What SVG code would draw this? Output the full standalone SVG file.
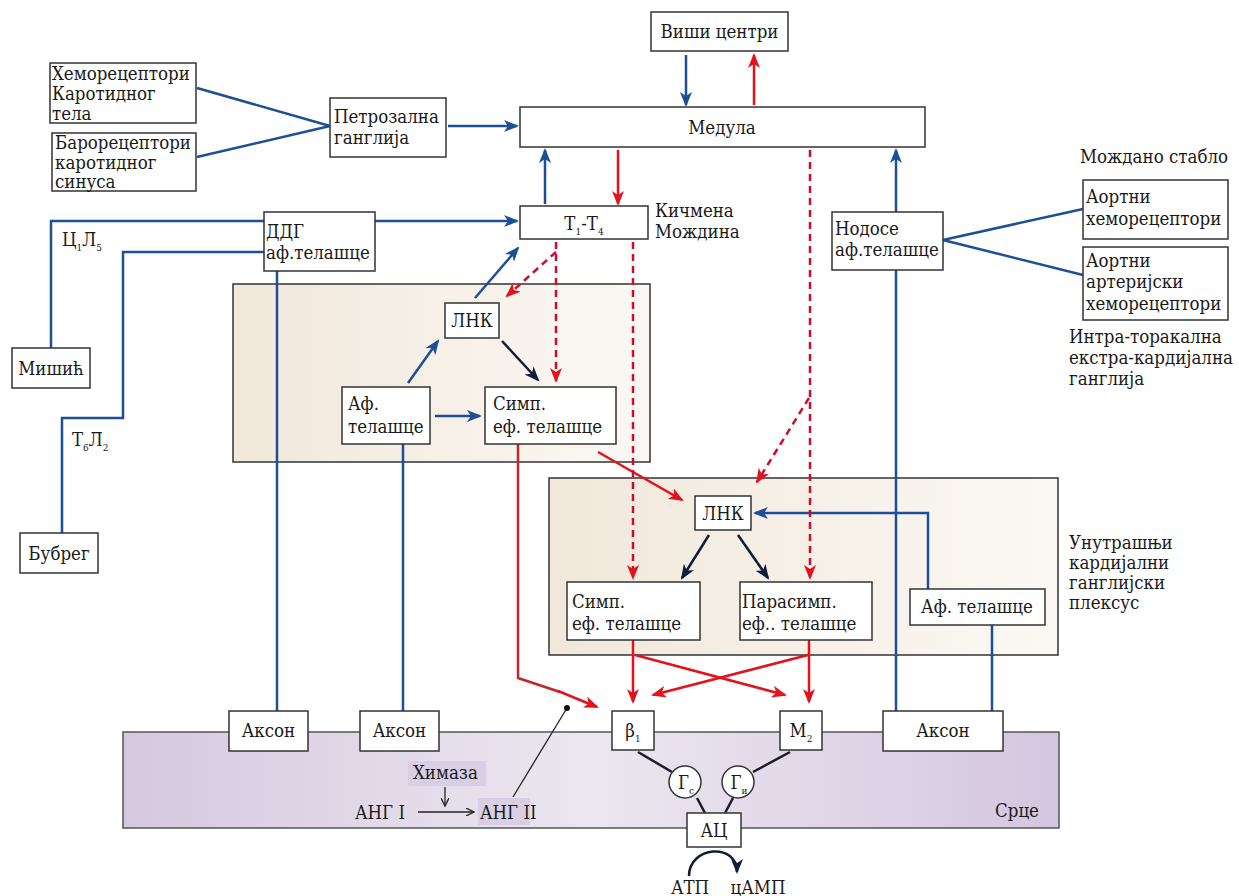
<svg xmlns="http://www.w3.org/2000/svg" width="1239" height="896" viewBox="0 0 1239 896">
<defs>
<style>
text{font-family:'DejaVu Serif Condensed','DejaVu Serif',serif;font-size:18.5px;fill:#1a1a1a}
.box{fill:#fff;stroke:#333;stroke-width:1.5}
.panel{stroke:#333;stroke-width:1.5}
.b{fill:none;stroke:#1d4e96;stroke-width:2.5}
.r{fill:none;stroke:#e3121d;stroke-width:2.5}
.dr{fill:none;stroke:#c1272d;stroke-width:2.5}
.rd{fill:none;stroke:#c8102e;stroke-width:2.5;stroke-dasharray:7 5}
.n{fill:none;stroke:#0f1c3a;stroke-width:2.5}
.k{fill:none;stroke:#1a1a2a;stroke-width:2.5}
.t{fill:none;stroke:#222;stroke-width:1.3}
.sub{font-size:10px}
.m{text-anchor:middle}
.hl{fill:#d9cfe4}
</style>
<linearGradient id="beige" x1="0" y1="0" x2="1" y2="0">
<stop offset="0" stop-color="#f1e8db"/>
<stop offset="1" stop-color="#fbf8f4"/>
</linearGradient>
<linearGradient id="heart" x1="0" y1="0" x2="1" y2="0">
<stop offset="0" stop-color="#d5c8df"/>
<stop offset="0.5" stop-color="#ece7f0"/>
<stop offset="1" stop-color="#d4c6df"/>
</linearGradient>
<marker id="ab" markerUnits="userSpaceOnUse" markerWidth="16" markerHeight="12" refX="13" refY="6" orient="auto"><path d="M0,0 L15,6 L0,12 L4,6 z" fill="#1d4e96"/></marker>
<marker id="ar" markerUnits="userSpaceOnUse" markerWidth="16" markerHeight="12" refX="13" refY="6" orient="auto"><path d="M0,0 L15,6 L0,12 L4,6 z" fill="#e3121d"/></marker>
<marker id="an" markerUnits="userSpaceOnUse" markerWidth="16" markerHeight="12" refX="13" refY="6" orient="auto"><path d="M0,0 L15,6 L0,12 L4,6 z" fill="#0f1c3a"/></marker>
<marker id="at" markerUnits="userSpaceOnUse" markerWidth="10" markerHeight="8" refX="8" refY="4" orient="auto"><path d="M0,0 L8,4 L0,8" fill="none" stroke="#222" stroke-width="1.3"/></marker>
</defs>

<g id="panels">
<rect class="panel" x="233" y="284" width="417" height="178" fill="url(#beige)"/>
<rect class="panel" x="549" y="478" width="509" height="177" fill="url(#beige)"/>
<rect x="123" y="732" width="936" height="96" fill="url(#heart)" stroke="#555" stroke-width="1.5"/>
<rect class="hl" x="408" y="761" width="78" height="25"/>
<rect class="hl" x="478" y="798" width="52" height="27"/>
</g>

<g id="connectors">
<line class="b" x1="197" y1="88" x2="330" y2="126"/>
<line class="b" x1="197" y1="157" x2="330" y2="126"/>
<line class="b" x1="448" y1="126" x2="517" y2="126" marker-end="url(#ab)"/>
<line class="b" x1="686" y1="55" x2="686" y2="105" marker-end="url(#ab)"/>
<line class="r" x1="754" y1="105" x2="754" y2="55" marker-end="url(#ar)"/>
<line class="b" x1="545" y1="204" x2="545" y2="150" marker-end="url(#ab)"/>
<line class="r" x1="618" y1="150" x2="618" y2="204" marker-end="url(#ar)"/>
<line class="b" x1="375" y1="221" x2="517" y2="221" marker-end="url(#ab)"/>
<polyline class="b" points="264,221 51,221 51,348"/>
<polyline class="b" points="264,252 123,252 123,418 62,418 62,533"/>
<line class="b" x1="277" y1="271" x2="277" y2="711"/>
<line class="b" x1="475" y1="298" x2="518" y2="248" marker-end="url(#ab)"/>
<line class="b" x1="408" y1="383" x2="438" y2="341" marker-end="url(#ab)"/>
<line class="b" x1="435" y1="416" x2="480" y2="416" marker-end="url(#ab)"/>
<line class="b" x1="403" y1="444" x2="403" y2="711"/>
<line class="b" x1="896" y1="212" x2="896" y2="150" marker-end="url(#ab)"/>
<line class="b" x1="896" y1="711" x2="896" y2="270"/>
<line class="b" x1="943" y1="240" x2="1083" y2="209"/>
<line class="b" x1="943" y1="240" x2="1083" y2="275"/>
<polyline class="b" points="928,589 928,513 755,513" marker-end="url(#ab)"/>
<line class="b" x1="992" y1="711" x2="992" y2="625"/>
<line class="n" x1="502" y1="341" x2="538" y2="380" marker-end="url(#an)"/>
<line class="n" x1="709" y1="535" x2="682" y2="578" marker-end="url(#an)"/>
<line class="n" x1="738" y1="535" x2="768" y2="578" marker-end="url(#an)"/>
<polyline class="dr" points="518,444 518,678 560,692"/>
<line class="r" x1="558" y1="691" x2="597" y2="707" marker-end="url(#ar)"/>
<line class="r" x1="598" y1="452" x2="682" y2="500" marker-end="url(#ar)"/>
<line class="r" x1="633" y1="640" x2="633" y2="702" marker-end="url(#ar)"/>
<line class="r" x1="809" y1="640" x2="809" y2="702" marker-end="url(#ar)"/>
<line class="r" x1="635" y1="655" x2="785" y2="695" marker-end="url(#ar)"/>
<line class="r" x1="808" y1="655" x2="653" y2="695" marker-end="url(#ar)"/>
<line class="rd" x1="556" y1="242" x2="556" y2="381" marker-end="url(#ar)"/>
<line class="rd" x1="556" y1="252" x2="507" y2="296" marker-end="url(#ar)"/>
<line class="rd" x1="633" y1="242" x2="633" y2="578" marker-end="url(#ar)"/>
<line class="rd" x1="810" y1="150" x2="810" y2="578" marker-end="url(#ar)"/>
<line class="rd" x1="809" y1="398" x2="757" y2="482" marker-end="url(#ar)"/>
<line class="k" x1="638" y1="752" x2="672" y2="772"/>
<line class="k" x1="790" y1="752" x2="753" y2="772"/>
<line class="k" x1="697" y1="798" x2="705" y2="813"/>
<line class="k" x1="733" y1="798" x2="725" y2="813"/>
<path class="n" d="M689,876 C689,846 737,842 737,872" marker-end="url(#an)"/>
<line class="t" x1="513" y1="797" x2="567" y2="708"/>
<circle cx="567" cy="708" r="3" fill="#111"/>
<line class="t" x1="445" y1="787" x2="445" y2="806" marker-end="url(#at)"/>
<line class="t" x1="418" y1="812" x2="474" y2="812" marker-end="url(#at)"/>
</g>

<g id="n-visi"><rect class="box" x="651" y="12" width="137" height="39"/><text class="m" x="719.5" y="38">Виши центри</text></g>
<g id="n-medula"><rect class="box" x="520" y="107" width="405" height="40"/><text class="m" x="722" y="134">Медула</text></g>
<g id="n-chemo"><rect class="box" x="50" y="63" width="146" height="60"/><text x="52" y="80">Хеморецептори</text><text x="52" y="100">Каротидног</text><text x="52" y="120">тела</text></g>
<g id="n-baro"><rect class="box" x="52" y="133" width="144" height="58"/><text x="55" y="149">Барорецептори</text><text x="55" y="169">каротидног</text><text x="55" y="188">синуса</text></g>
<g id="n-petro"><rect class="box" x="330" y="98" width="116" height="59"/><text x="334" y="123">Петрозална</text><text x="334" y="144">ганглија</text></g>
<g id="n-t1t4"><rect class="box" x="520" y="206" width="128" height="33"/><text class="m" x="584" y="230">Т<tspan class="sub" dy="5">1</tspan><tspan dy="-5">-Т</tspan><tspan class="sub" dy="5">4</tspan></text></g>
<g id="l-spinal"><text x="655" y="217">Кичмена</text><text x="655" y="238">Мождина</text></g>
<g id="n-ddg"><rect class="box" x="264" y="212" width="111" height="59"/><text x="266" y="238">ДДГ</text><text x="266" y="259">аф.телашце</text></g>
<g id="n-misic"><rect class="box" x="12" y="348" width="78" height="40"/><text class="m" x="51" y="375">Мишић</text></g>
<g id="n-bubreg"><rect class="box" x="20" y="533" width="78" height="40"/><text class="m" x="59" y="560">Бубрег</text></g>
<g id="l-c1l5"><text x="62" y="246">Ц<tspan class="sub" dy="5">1</tspan><tspan dy="-5">Л</tspan><tspan class="sub" dy="5">5</tspan></text></g>
<g id="l-t6l2"><text x="72" y="446">Т<tspan class="sub" dy="5">6</tspan><tspan dy="-5">Л</tspan><tspan class="sub" dy="5">2</tspan></text></g>
<g id="n-lnk1"><rect class="box" x="445" y="303" width="54" height="35"/><text class="m" x="472" y="327">ЛНК</text></g>
<g id="n-af1"><rect class="box" x="342" y="387" width="88" height="57"/><text x="348" y="410">Аф.</text><text x="348" y="433">телашце</text></g>
<g id="n-simp1"><rect class="box" x="485" y="387" width="131" height="57"/><text x="493" y="410">Симп.</text><text x="493" y="433">еф. телашце</text></g>
<g id="n-nodose"><rect class="box" x="832" y="212" width="111" height="58"/><text x="835" y="235">Нодосе</text><text x="835" y="256">аф.телашце</text></g>
<g id="l-brainstem"><text x="1080" y="163">Мождано стабло</text></g>
<g id="n-aort1"><rect class="box" x="1083" y="180" width="145" height="59"/><text x="1086" y="203">Аортни</text><text x="1086" y="225">хеморецептори</text></g>
<g id="n-aort2"><rect class="box" x="1083" y="247" width="145" height="73"/><text x="1086" y="267">Аортни</text><text x="1086" y="288">артеријски</text><text x="1086" y="310">хеморецептори</text></g>
<g id="l-intra"><text x="1069" y="343">Интра-торакална</text><text x="1069" y="364">екстра-кардијална</text><text x="1069" y="385">ганглија</text></g>
<g id="n-lnk2"><rect class="box" x="695" y="496" width="56" height="34"/><text class="m" x="723" y="520">ЛНК</text></g>
<g id="n-simp2"><rect class="box" x="567" y="582" width="133" height="58"/><text x="572" y="608">Симп.</text><text x="572" y="630">еф. телашце</text></g>
<g id="n-parasimp"><rect class="box" x="740" y="582" width="132" height="58"/><text x="742" y="608">Парасимп.</text><text x="742" y="630">еф.. телашце</text></g>
<g id="n-af2"><rect class="box" x="910" y="589" width="135" height="36"/><text class="m" x="977" y="613">Аф. телашце</text></g>
<g id="l-plexus"><text x="1069" y="549">Унутрашњи</text><text x="1069" y="569">кардијални</text><text x="1069" y="589">ганглијски</text><text x="1069" y="609">плексус</text></g>
<g id="n-akson1"><rect class="box" x="229" y="711" width="79" height="40"/><text class="m" x="268.5" y="737">Аксон</text></g>
<g id="n-akson2"><rect class="box" x="360" y="711" width="79" height="40"/><text class="m" x="399.5" y="737">Аксон</text></g>
<g id="n-akson3"><rect class="box" x="883" y="711" width="120" height="40"/><text class="m" x="943" y="737">Аксон</text></g>
<g id="n-beta1"><rect class="box" x="612" y="711" width="42" height="39"/><text class="m" x="633" y="737">β<tspan class="sub" dy="5">1</tspan></text></g>
<g id="n-m2"><rect class="box" x="780" y="711" width="42" height="39"/><text class="m" x="801" y="737">М<tspan class="sub" dy="5">2</tspan></text></g>
<g id="n-gs"><circle cx="685" cy="782" r="16" fill="#fff" stroke="#333" stroke-width="1.5"/><text class="m" x="686" y="789">Г<tspan class="sub" dy="5">с</tspan></text></g>
<g id="n-gi"><circle cx="738" cy="782" r="16" fill="#fff" stroke="#333" stroke-width="1.5"/><text class="m" x="739" y="789">Г<tspan class="sub" dy="5">и</tspan></text></g>
<g id="n-ac"><rect class="box" x="687" y="813" width="54" height="34"/><text class="m" x="714" y="837">АЦ</text></g>
<g id="l-heart">
<text x="413" y="779">Химаза</text>
<text x="355" y="819">АНГ I</text>
<text x="480" y="819">АНГ II</text>
<text x="995" y="817">Срце</text>
<text class="m" x="690" y="894">АТП</text>
<text class="m" x="758" y="894">цАМП</text>
</g>
</svg>
